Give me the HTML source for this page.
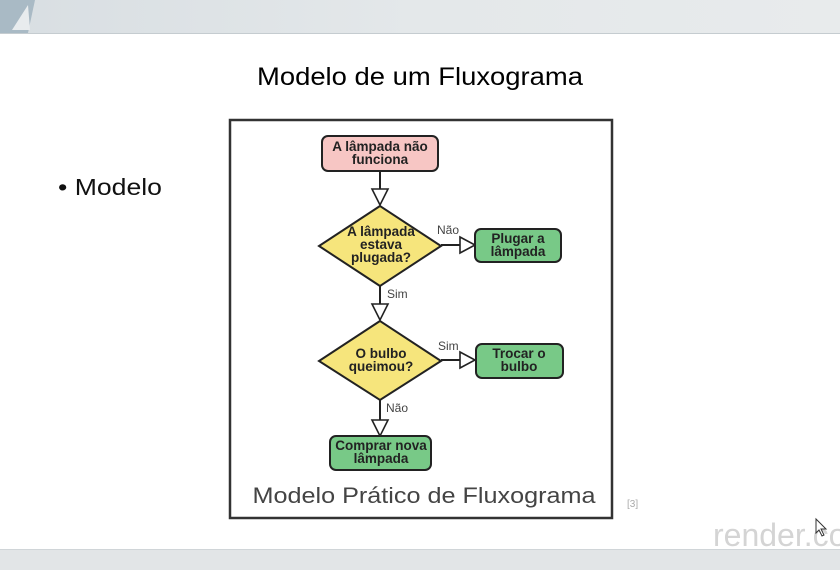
<!DOCTYPE html>
<html><head><meta charset="utf-8"><style>
html,body{margin:0;padding:0;background:#fff;}
body{width:840px;height:570px;overflow:hidden;position:relative;font-family:"Liberation Sans","DejaVu Sans",sans-serif;}
</style></head><body>
<svg width="840" height="570" viewBox="0 0 840 570" xmlns="http://www.w3.org/2000/svg" style="position:absolute;left:0;top:0">
<defs>
<linearGradient id="hd" x1="0" y1="0" x2="1" y2="0">
<stop offset="0" stop-color="#d8dee2"/><stop offset="0.5" stop-color="#e4e8ea"/><stop offset="1" stop-color="#e8ebec"/>
</linearGradient>
</defs>
<rect x="0" y="0" width="840" height="33" fill="url(#hd)"/>
<polygon points="0,0 35,0 28,33 0,33" fill="#a9bac5"/>
<polygon points="12,30 28,5 30,30" fill="#e8ecee"/>
<line x1="0" y1="33.5" x2="840" y2="33.5" stroke="#c5ccd0"/>
<rect x="0" y="550" width="840" height="20" fill="#e2e5e7"/>
<line x1="0" y1="549.5" x2="840" y2="549.5" stroke="#d0d5d8"/>
<text x="420" y="85" text-anchor="middle" font-size="25" fill="#000" textLength="326" lengthAdjust="spacingAndGlyphs">Modelo de um Fluxograma</text>
<text x="58" y="195" font-size="23" fill="#111" textLength="104" lengthAdjust="spacingAndGlyphs">• Modelo</text>
<rect x="230" y="120" width="382" height="398" fill="#fff" stroke="#333" stroke-width="2.5"/>
<g stroke="#222" stroke-width="2" fill="none">
<line x1="380" y1="171" x2="380" y2="189"/>
<line x1="380" y1="286" x2="380" y2="304"/>
<line x1="380" y1="400" x2="380" y2="420"/>
<line x1="441" y1="245" x2="460" y2="245"/>
<line x1="441" y1="360" x2="460" y2="360"/>
</g>
<g stroke="#222" stroke-width="1.6" fill="#fff">
<polygon points="372,189 388,189 380,205"/>
<polygon points="372,304 388,304 380,320"/>
<polygon points="372,420 388,420 380,436"/>
<polygon points="460,237 460,253 475,245"/>
<polygon points="460,352 460,368 475,360"/>
</g>
<g stroke="#222" stroke-width="2">
<rect x="322" y="136" width="116" height="35" rx="6" fill="#f7c6c4"/>
<polygon points="380,206 441,246 380,286 319,246" fill="#f6e57c"/>
<rect x="475" y="229" width="86" height="33" rx="6" fill="#78c987"/>
<polygon points="380,321 441,361 380,400 319,361" fill="#f6e57c"/>
<rect x="476" y="344" width="87" height="34" rx="6" fill="#78c987"/>
<rect x="330" y="436" width="101" height="34" rx="6" fill="#78c987"/>
</g>
<g font-size="13.5" font-weight="bold" fill="#222" text-anchor="middle">
<text x="380" y="151">A lâmpada não</text><text x="380" y="164">funciona</text>
<text x="381" y="236">A lâmpada</text><text x="381" y="249">estava</text><text x="381" y="262">plugada?</text>
<text x="518" y="243">Plugar a</text><text x="518" y="256">lâmpada</text>
<text x="381" y="358">O bulbo</text><text x="381" y="371">queimou?</text>
<text x="519" y="358">Trocar o</text><text x="519" y="371">bulbo</text>
<text x="381" y="450">Comprar nova</text><text x="381" y="463">lâmpada</text>
</g>
<g font-size="12" fill="#444">
<text x="437" y="234">Não</text>
<text x="387" y="298">Sim</text>
<text x="438" y="350">Sim</text>
<text x="386" y="412">Não</text>
</g>
<text x="424" y="503" text-anchor="middle" font-size="22" fill="#444" textLength="343" lengthAdjust="spacingAndGlyphs">Modelo Prático de Fluxograma</text>
<text x="627" y="507" font-size="10" fill="#aaa">[3]</text>
<text x="713" y="546" font-size="32" fill="#d4d4d4">render.co</text>
<polygon points="816,519 816,533 819,530 822,536 824,535 821,529 826,529" fill="#fff" stroke="#333" stroke-width="1"/>
</svg>
</body></html>
